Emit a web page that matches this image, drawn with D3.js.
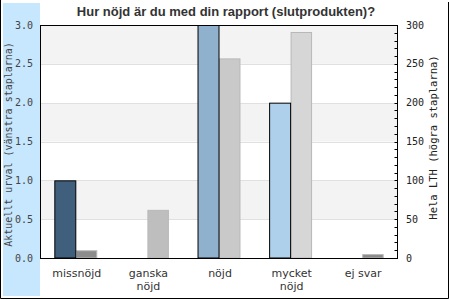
<!DOCTYPE html>
<html>
<head>
<meta charset="utf-8">
<script src="https://cdn.jsdelivr.net/npm/d3@7"></script>
<style>
html,body{margin:0;padding:0;background:#fff;}
svg{display:block;}
</style>
</head>
<body>
<svg id="chart" width="450" height="300"></svg>
<script>
const categories = ["missnöjd", "ganska\nnöjd", "nöjd", "mycket\nnöjd", "ej svar"];
const leftValues = [1, 0, 3, 2, 0];
const rightValues = [10, 62, 257, 291, 5];
const leftColors = ["#3f5f7c", "#6f8fae", "#8fb1cd", "#aed0eb", "#c8e2f5"];
const rightColors = ["#8c8c8c", "#bebebe", "#c9c9c9", "#d6d6d6", "#8a8a8a"];
const leftTicks = [0, 0.5, 1, 1.5, 2, 2.5, 3];
const rightTicks = [0, 50, 100, 150, 200, 250, 300];
const title = "Hur nöjd är du med din rapport (slutprodukten)?";
const leftTitle = "Aktuellt urval (vänstra staplarna)";
const rightTitle = "Hela LTH (högra staplarna)";

const svg = d3.select("#chart");
const pl = 40, pr = 398, pt = 25, pb = 258;

// left blue strip
svg.append("rect").attr("x", 3).attr("y", 3).attr("width", 37).attr("height", 293).attr("fill", "#c6e7fd");

const x = d3.scaleBand().domain(categories).range([pl, pr]).padding(0);
const yL = d3.scaleLinear().domain([0, 3]).range([pb, pt]);
const yR = d3.scaleLinear().domain([0, 300]).range([pb, pt]);

// bands
const bandPairs = d3.pairs(leftTicks);
svg.append("g").selectAll("rect").data(bandPairs).join("rect")
  .attr("x", pl).attr("width", pr - pl)
  .attr("y", d => yL(d[1])).attr("height", d => yL(d[0]) - yL(d[1]))
  .attr("fill", (d, i) => i % 2 === 1 ? "#f3f3f3" : "#ffffff");
// grid
svg.append("g").selectAll("line").data(leftTicks.slice(1, -1)).join("line")
  .attr("x1", pl).attr("x2", pr)
  .attr("y1", d => Math.round(yL(d)) + 0.5).attr("y2", d => Math.round(yL(d)) + 0.5)
  .attr("stroke", "#e0e0e0");

const bw = x.bandwidth() * 0.3;
// right bars
svg.append("g").selectAll("rect").data(rightValues).join("rect")
  .attr("x", (d, i) => x(categories[i]) + x.bandwidth() / 2 + 0.5)
  .attr("width", bw - 1)
  .attr("y", d => yR(d) + 0.5)
  .attr("height", d => Math.max(0, yR(0) - yR(d) - 0.5))
  .attr("fill", (d, i) => rightColors[i])
  .attr("stroke", "#b8b8b8").attr("stroke-width", 1)
  .attr("display", d => d > 0 ? null : "none");
// left bars
svg.append("g").selectAll("rect").data(leftValues).join("rect")
  .attr("x", (d, i) => x(categories[i]) + x.bandwidth() / 2 - bw + 0.5)
  .attr("width", bw - 0.5)
  .attr("y", d => yL(d) + 0.5)
  .attr("height", d => Math.max(0, yL(0) - yL(d) - 0.5))
  .attr("fill", (d, i) => leftColors[i])
  .attr("stroke", "#000").attr("stroke-width", 1)
  .attr("display", d => d > 0 ? null : "none");

// plot frame
svg.append("rect").attr("x", pl + 0.5).attr("y", pt + 0.5).attr("width", pr - pl - 1).attr("height", pb - pt)
  .attr("fill", "none").attr("stroke", "#000").attr("stroke-width", 1);

const mono = "'DejaVu Sans Mono', monospace";
// left axis labels
svg.append("g").selectAll("text").data(leftTicks).join("text")
  .attr("x", 33).attr("y", d => yL(d)).attr("dy", "0.35em")
  .attr("text-anchor", "end")
  .attr("font-family", mono).attr("font-size", 10).attr("fill", "#444")
  .text(d => d.toFixed(1));
// right axis ticks (minor every 10)
const rightMinor = d3.range(0, 301, 10);
svg.append("g").selectAll("line").data(rightMinor).join("line")
  .attr("x1", pr - 3.5).attr("x2", pr)
  .attr("y1", d => Math.round(yR(d)) + 0.5).attr("y2", d => Math.round(yR(d)) + 0.5)
  .attr("stroke", "#000");
svg.append("g").selectAll("text").data(rightTicks).join("text")
  .attr("x", 406).attr("y", d => yR(d)).attr("dy", "0.35em")
  .attr("text-anchor", "start")
  .attr("font-family", mono).attr("font-size", 10).attr("fill", "#222")
  .text(d => d);

// axis titles
svg.append("text")
  .attr("transform", "translate(12," + ((pt + pb) / 2 + 3) + ") rotate(-90)")
  .attr("text-anchor", "middle")
  .attr("font-family", mono).attr("font-size", 10).attr("fill", "#444")
  .text(leftTitle);
svg.append("text")
  .attr("transform", "translate(437," + ((pt + pb) / 2 - 4) + ") rotate(-90)")
  .attr("text-anchor", "middle")
  .attr("font-family", mono).attr("font-size", 10.5).attr("fill", "#222")
  .text(rightTitle);

// category labels
const cat = svg.append("g").selectAll("text").data(categories).join("text")
  .attr("x", d => x(d) + x.bandwidth() / 2 + 1)
  .attr("y", 277)
  .attr("text-anchor", "middle")
  .attr("font-family", "'DejaVu Sans', sans-serif").attr("font-size", 11).attr("fill", "#333");
cat.each(function(d) {
  const lines = d.split("\n");
  d3.select(this).selectAll("tspan").data(lines).join("tspan")
    .attr("x", x(d) + x.bandwidth() / 2 + 1)
    .attr("dy", (l, i) => i === 0 ? 0 : 12.5)
    .text(l => l);
});

// title
svg.append("text").attr("x", 226).attr("y", 16).attr("text-anchor", "middle")
  .attr("font-family", "'Liberation Sans', Arial, sans-serif").attr("font-weight", "bold")
  .attr("font-size", 13).attr("fill", "#333")
  .text(title);

// outer border
svg.append("path").attr("d", "M0.5,0 V298.5 H448.5 V2")
  .attr("fill", "none").attr("stroke", "#000").attr("stroke-width", 1);
</script>
</body>
</html>
